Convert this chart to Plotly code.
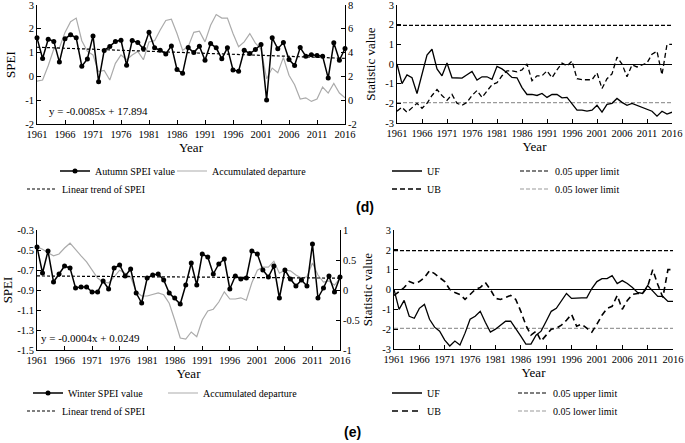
import plotly.graph_objects as go

# ---------------- data ----------------
years = list(range(1961, 2017))
year_ticks = list(range(1961, 2017, 5))

autumn_spei = [1.62, 0.75, 1.56, 1.47, 0.60, 1.58, 1.75, 1.62, 0.43, 0.73,
               1.70, -0.22, 1.09, 1.26, 1.47, 1.52, 0.47, 1.51, 1.42, 1.16,
               1.86, 1.20, 1.10, 0.94, 1.28, 0.29, 0.13, 1.21, 1.00, 1.27,
               0.68, 1.38, 1.20, 0.74, 1.20, 0.27, 0.22, 1.10, 0.96, 1.13,
               1.34, -0.99, 1.62, 1.16, 1.42, 0.71, 0.46, 1.21, 0.85, 0.91,
               0.88, 0.85, -0.07, 1.41, 0.68, 1.17]
autumn_acc = [1.6, 1.7, 2.9, 4.3, 4.4, 5.7, 6.6, 6.9, 5.0, 4.1,
              3.8, 2.4, 2.5, 1.7, 3.1, 3.8, 3.4, 3.8, 4.1, 3.4,
              4.9, 5.0, 5.9, 6.7, 6.8, 5.6, 4.2, 4.5, 5.7, 5.8,
              4.9, 6.3, 7.2, 6.9, 6.9, 5.6, 4.5, 4.9, 5.6, 4.8,
              4.3, 1.8, 2.7, 2.3, 3.6, 2.1, 1.3, 0.1, 0.2, -0.1,
              0.1, 1.1, 0.6, 1.4, 0.6, 0.2]
autumn_trend = (-0.0085, 17.894)

d_uf = [0, -1.0, -0.55, -0.7, -1.5, -0.5, 0.45, 0.75, -0.25, -0.6,
        0.05, -0.7, -0.72, -0.72, -0.55, -0.38, -0.82, -0.65, -0.65, -0.78,
        -0.12, -0.25, -0.45, -0.68, -0.7, -1.2, -1.55, -1.55, -1.6, -1.5,
        -1.7, -1.55, -1.55, -1.72, -1.7, -2.0, -2.35, -2.35, -2.4, -2.35,
        -2.1, -2.45, -2.05, -2.0, -1.75, -1.95, -2.1, -2.0, -2.1, -2.2,
        -2.3, -2.4, -2.65, -2.4, -2.55, -2.45]
d_ub = [-2.4, -2.2, -2.45, -2.2, -2.0, -2.25, -2.0, -1.6, -1.3, -1.6,
        -1.85, -1.55, -2.0, -2.1, -1.95, -1.6, -1.35, -1.7, -1.35, -1.05,
        -0.95, -0.6, -0.35, -0.35, -0.4, -0.3, 0.0, -0.85, -0.6, -0.6,
        -0.35, -0.7, -0.3, 0.05, -0.1, 0.15, -0.75, -0.8, -0.8, -0.8,
        -0.45, -1.25, -0.75, -0.5, 0.35, 0.0, -0.65, -0.05, -0.15, -0.05,
        0.05, 0.5, 0.65, -0.55, 1.0, 1.0]

winter_spei = [-0.47, -0.73, -0.51, -0.82, -0.74, -0.66, -0.68, -0.88, -0.87, -0.87,
               -0.92, -0.92, -0.81, -0.89, -0.68, -0.65, -0.76, -0.69, -0.93, -1.03,
               -0.78, -0.75, -0.74, -0.80, -0.93, -0.98, -1.04, -0.85, -0.63, -0.85,
               -0.54, -0.57, -0.74, -0.64, -0.59, -0.89, -0.76, -0.79, -0.78, -0.51,
               -0.54, -0.70, -0.77, -0.66, -0.98, -0.70, -0.79, -0.86, -0.80, -0.86,
               -0.44, -0.98, -0.88, -0.76, -0.92, -0.77]
winter_acc = [0.72, 0.68, 0.62, 0.57, 0.60, 0.70, 0.78, 0.67, 0.57, 0.47,
              0.33, 0.20, 0.13, 0.12, 0.22, 0.33, 0.28, 0.22, -0.03, -0.10,
              -0.10, -0.08, -0.05, -0.08, -0.22, -0.50, -0.80, -0.82, -0.70, -0.78,
              -0.50, -0.35, -0.32, -0.20, -0.03, -0.15, -0.15, -0.13, -0.17, 0.12,
              0.33, 0.38, 0.38, 0.48, 0.28, 0.33, 0.32, 0.25, 0.20, 0.22,
              0.45, 0.25, 0.13, 0.15, 0.08, 0.20]
winter_trend = (-0.0004, 0.0249)

e_uf = [0, -1.0, -0.55, -1.35, -1.45, -0.95, -0.75, -1.5, -1.9, -2.1,
        -2.55, -2.85, -2.6, -2.8, -2.2, -1.5, -1.35, -1.1, -1.65, -2.15,
        -2.0, -1.8, -1.6, -1.6, -1.95, -2.35, -2.75, -2.75, -2.3, -2.1,
        -1.6, -1.1, -0.95, -0.6, -0.2, -0.45, -0.42, -0.42, -0.42, 0.05,
        0.4, 0.55, 0.55, 0.7, 0.3, 0.45, 0.3, 0.1, -0.15, -0.2,
        0.2, -0.1, -0.35, -0.35, -0.6, -0.6]
e_ub = [-0.3, -0.1, 0.1, 0.4, 0.3, 0.4, 0.6, 0.95, 0.8, 0.6,
        0.4, 0.0, -0.15, -0.25, -0.5, -0.25, 0.0, 0.1, 0.35, 0.0,
        -0.45, -0.5, -0.4, -0.3, -0.5, -1.1, -1.8, -2.3, -2.1, -2.6,
        -2.3, -2.0, -1.95, -1.8, -1.55, -1.25, -1.85, -1.75, -1.95, -2.15,
        -1.75, -1.3, -0.95, -0.85, -0.3, -1.0, -0.55, -0.25, -0.2, -0.2,
        0.15, 1.0, 0.25, -0.4, 1.0, 1.0]

upper_limit = 1.96
lower_limit = -1.96

spei_d_ticks = [-2, -1, 0, 1, 2, 3]
acc_d_ticks = [-2, 0, 2, 4, 6, 8]
spei_e_ticks = [-1.5, -1.3, -1.1, -0.9, -0.7, -0.5, -0.3]
acc_e_ticks = [-1, -0.5, 0, 0.5, 1]
stat_ticks = [-3, -2, -1, 0, 1, 2, 3]

# ---------------- layout helpers ----------------
W, H = 685, 443
SERIF = "Liberation Serif, Times New Roman, serif"
GRAY = "#ababab"


def xd(a, b):
    return [a / W, b / W]


def yd(top, bottom):
    return [1 - bottom / H, 1 - top / H]


def lab(v):
    return "%g" % v


def tick_axis(vals, fmt=lab):
    return dict(tickvals=vals, ticktext=[fmt(v) for v in vals])


def leg(xp, yp):
    return dict(x=xp / W, y=1 - yp / H, xanchor="left", yanchor="middle",
                orientation="h", entrywidth=0, entrywidthmode="pixels",
                bgcolor="rgba(0,0,0,0)", borderwidth=0, itemwidth=30,
                font=dict(family=SERIF, size=10, color="black"),
                tracegroupgap=0, traceorder="normal")


def lw(spacing):
    # width of a first legend entry so that the next entry starts `spacing` px later
    return spacing - 45


fig = go.Figure()

trend_d = [autumn_trend[0] * y + autumn_trend[1] for y in years]
trend_e = [winter_trend[0] * y + winter_trend[1] for y in years]
edges = [years[0], years[-1]]

# ---- (d) left ----
fig.add_trace(go.Scatter(x=years, y=autumn_acc, xaxis="x", yaxis="y", mode="lines",
                         line=dict(color=GRAY, width=1.2), name="Accumulated departure",
                         legend="legend", legendrank=2))
fig.add_trace(go.Scatter(x=years, y=trend_d, xaxis="x", yaxis="y2", mode="lines",
                         line=dict(color="black", width=1.2, dash="3px,2px"),
                         name="Linear trend of SPEI", legend="legend2"))
fig.add_trace(go.Scatter(x=years, y=autumn_spei, xaxis="x", yaxis="y2", mode="lines+markers",
                         line=dict(color="black", width=1.5), marker=dict(size=5, color="black"),
                         cliponaxis=False, name="Autumn SPEI value", legend="legend",
                         legendrank=1, legendwidth=lw(117)))

# ---- (d) right ----
fig.add_trace(go.Scatter(x=edges, y=[upper_limit] * 2, xaxis="x2", yaxis="y3", mode="lines",
                         line=dict(color="black", width=1.2, dash="4px,2px"),
                         name="0.05 upper limit", legend="legend3", legendrank=2))
fig.add_trace(go.Scatter(x=edges, y=[lower_limit] * 2, xaxis="x2", yaxis="y3", mode="lines",
                         line=dict(color="#9a9a9a", width=1.2, dash="4px,2px"),
                         name="0.05 lower limit", legend="legend4", legendrank=2))
fig.add_trace(go.Scatter(x=years, y=d_ub, xaxis="x2", yaxis="y3", mode="lines",
                         line=dict(color="black", width=1.3, dash="5px,3px"),
                         name="UB", legend="legend4", legendrank=1, legendwidth=lw(128)))
fig.add_trace(go.Scatter(x=years, y=d_uf, xaxis="x2", yaxis="y3", mode="lines",
                         line=dict(color="black", width=1.3),
                         name="UF", legend="legend3", legendrank=1, legendwidth=lw(128)))

# ---- (e) left ----
fig.add_trace(go.Scatter(x=years, y=winter_acc, xaxis="x3", yaxis="y4", mode="lines",
                         line=dict(color=GRAY, width=1.2), name="Accumulated departure",
                         legend="legend5", legendrank=2))
fig.add_trace(go.Scatter(x=years, y=trend_e, xaxis="x3", yaxis="y5", mode="lines",
                         line=dict(color="black", width=1.2, dash="3px,2px"),
                         name="Linear trend of SPEI", legend="legend6"))
fig.add_trace(go.Scatter(x=years, y=winter_spei, xaxis="x3", yaxis="y5", mode="lines+markers",
                         line=dict(color="black", width=1.5), marker=dict(size=5, color="black"),
                         cliponaxis=False, name="Winter SPEI value", legend="legend5",
                         legendrank=1, legendwidth=lw(135)))

# ---- (e) right ----
fig.add_trace(go.Scatter(x=edges, y=[upper_limit] * 2, xaxis="x4", yaxis="y6", mode="lines",
                         line=dict(color="black", width=1.2, dash="4px,2px"),
                         name="0.05 upper limit", legend="legend7", legendrank=2))
fig.add_trace(go.Scatter(x=edges, y=[lower_limit] * 2, xaxis="x4", yaxis="y6", mode="lines",
                         line=dict(color="#9a9a9a", width=1.2, dash="4px,2px"),
                         name="0.05 lower limit", legend="legend8", legendrank=2))
fig.add_trace(go.Scatter(x=years, y=e_ub, xaxis="x4", yaxis="y6", mode="lines",
                         line=dict(color="black", width=1.6, dash="6px,4px"),
                         name="UB", legend="legend8", legendrank=1, legendwidth=lw(126)))
fig.add_trace(go.Scatter(x=years, y=e_uf, xaxis="x4", yaxis="y6", mode="lines",
                         line=dict(color="black", width=1.3),
                         name="UF", legend="legend7", legendrank=1, legendwidth=lw(126)))

tickfont = dict(family=SERIF, size=10.5, color="black")
titlefont = dict(family=SERIF, size=13, color="black")

xcommon = dict(range=[1961, 2016], showline=True, linecolor="black", linewidth=1,
               ticks="inside", ticklen=4, tickcolor="black", showgrid=False, zeroline=False,
               tickfont=tickfont, automargin=False, ticklabeloverflow="allow",
               title=dict(text="Year", font=titlefont, standoff=4),
               **tick_axis(year_ticks, lambda v: str(v)))
ycommon = dict(showline=True, linecolor="black", linewidth=1, ticks="inside", ticklen=4,
               tickcolor="black", showgrid=False, zeroline=False, tickfont=tickfont,
               automargin=False, ticklabeloverflow="allow")

fig.update_layout(
    width=W, height=H, margin=dict(l=0, r=0, t=0, b=0, autoexpand=False),
    paper_bgcolor="white", plot_bgcolor="white", showlegend=True,
    xaxis=dict(domain=xd(37, 345), anchor="y", **xcommon),
    yaxis=dict(domain=yd(5, 124), anchor="x", side="right", range=[-2, 8],
               **tick_axis(acc_d_ticks), **ycommon),
    yaxis2=dict(overlaying="y", anchor="x", side="left", range=[-2, 3],
                title=dict(text="SPEI", font=titlefont, standoff=6),
                **tick_axis(spei_d_ticks), **ycommon),
    xaxis2=dict(domain=xd(397, 672), anchor="y3", **xcommon),
    yaxis3=dict(domain=yd(5, 123), anchor="x2", range=[-3, 3],
                title=dict(text="Statistic value", font=titlefont, standoff=6),
                **tick_axis(stat_ticks), **{**ycommon, "zeroline": True},
                zerolinecolor="black", zerolinewidth=1),
    xaxis3=dict(domain=xd(37, 340), anchor="y4", **xcommon),
    yaxis4=dict(domain=yd(230, 350), anchor="x3", side="right", range=[-1, 1],
                **tick_axis(acc_e_ticks), **ycommon),
    yaxis5=dict(overlaying="y4", anchor="x3", side="left", range=[-1.5, -0.3],
                title=dict(text="SPEI", font=titlefont, standoff=6),
                **tick_axis(spei_e_ticks, lambda v: "%.1f" % v), **ycommon),
    xaxis4=dict(domain=xd(394, 673), anchor="y6", **xcommon),
    yaxis6=dict(domain=yd(230, 349), anchor="x4", range=[-3, 3],
                title=dict(text="Statistic value", font=titlefont, standoff=6),
                **tick_axis(stat_ticks), **{**ycommon, "zeroline": True},
                zerolinecolor="black", zerolinewidth=1),
    legend=leg(55, 171), legend2=leg(22, 189),
    legend3=leg(387, 171), legend4=leg(387, 189),
    legend5=leg(28, 393), legend6=leg(22, 411),
    legend7=leg(387, 393), legend8=leg(387, 411),
    annotations=[
        dict(text="y = -0.0085x + 17.894", x=47 / W, y=1 - 111 / H, xref="paper", yref="paper",
             xanchor="left", yanchor="middle", showarrow=False,
             font=dict(family=SERIF, size=11, color="black")),
        dict(text="y = -0.0004x + 0.0249", x=39 / W, y=1 - 338 / H, xref="paper", yref="paper",
             xanchor="left", yanchor="middle", showarrow=False,
             font=dict(family=SERIF, size=11, color="black")),
        dict(text="<b>(d)</b>", x=365 / W, y=1 - 207 / H, xref="paper", yref="paper",
             xanchor="center", yanchor="middle", showarrow=False,
             font=dict(family="Liberation Sans, Arial, sans-serif", size=14, color="black")),
        dict(text="<b>(e)</b>", x=352 / W, y=1 - 432 / H, xref="paper", yref="paper",
             xanchor="center", yanchor="middle", showarrow=False,
             font=dict(family="Liberation Sans, Arial, sans-serif", size=14, color="black")),
    ],
)

fig.write_html("out.html", config={"displayModeBar": False},
               post_script="document.body.style.margin='0px';document.body.style.overflow='hidden';")
